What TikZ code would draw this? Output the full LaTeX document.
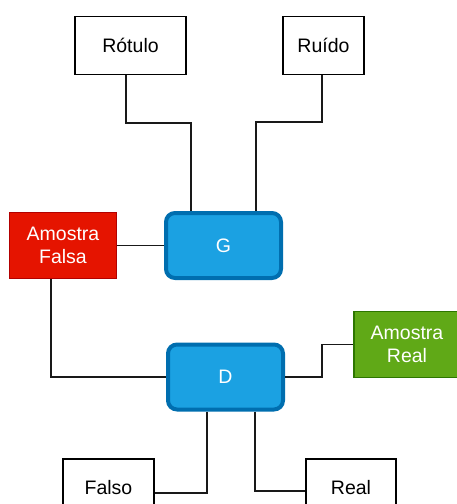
\documentclass[tikz,border=0pt]{standalone}
\usepackage{fontspec}
\setmainfont{Liberation Sans}
\definecolor{gfill}{HTML}{1BA1E2}
\definecolor{gline}{HTML}{006EAF}
\definecolor{rfill}{HTML}{E51400}
\definecolor{rline}{HTML}{B20000}
\definecolor{vfill}{HTML}{60A917}
\definecolor{vline}{HTML}{2D7600}
\tikzset{
  lbl/.style={font=\fontsize{19.5pt}{23.5pt}\selectfont, align=center},
  plainbox/.style={lbl, draw=black, line width=1.6pt, fill=white, text=black, inner sep=0pt},
  netbox/.style={lbl, draw=gline, fill=gfill, line width=4pt, rounded corners=9pt, text=white, inner sep=0pt, minimum width=115pt, minimum height=65pt},
  fakebox/.style={lbl, draw=rline, fill=rfill, line width=1.2pt, text=white, inner sep=0pt},
  realbox/.style={lbl, draw=vline, fill=vfill, line width=1.2pt, text=white, inner sep=0pt},
  wire/.style={draw=black!90, line width=1.5pt}
}
\begin{document}
\begin{tikzpicture}[x=1pt,y=-1pt]
\useasboundingbox (0,0) rectangle (456,504);
\node[plainbox, minimum width=111pt, minimum height=58pt] (rot) at (130.5,45.5) {Rótulo};
\node[plainbox, minimum width=81pt, minimum height=58pt] (rui) at (323.5,45.5) {Ruído};
\node[netbox] (G) at (223.5,245.5) {G};
\node[fakebox, minimum width=107pt, minimum height=66pt] (af) at (63,245.5) {Amostra\\Falsa};
\node[netbox] (D) at (225.5,377) {D};
\node[realbox, minimum width=106pt, minimum height=66pt] (ar) at (407,344.5) {Amostra\\Real};
\node[plainbox, minimum width=91pt, minimum height=58pt] (fa) at (108.5,488) {Falso};
\node[plainbox, minimum width=90pt, minimum height=58pt] (re) at (351,488) {Real};

\draw[wire] ([xshift=-4.5pt]rot.south) |- (191,123) -- ([xshift=-32.5pt]G.north);
\draw[wire] ([xshift=-1.5pt]rui.south) |- (256,122) -- ([xshift=32.5pt]G.north);
\draw[wire] (af.east) -- (G.west);
\draw[wire] ([xshift=-12pt]af.south) |- (D.west);
\draw[wire] (D.east) -- (322,377) |- (ar.west);
\draw[wire] ([xshift=-18.5pt]D.south) |- ([yshift=-5pt]fa.east);
\draw[wire] ([xshift=29.5pt]D.south) |- ([yshift=-3pt]re.west);
\end{tikzpicture}
\end{document}
